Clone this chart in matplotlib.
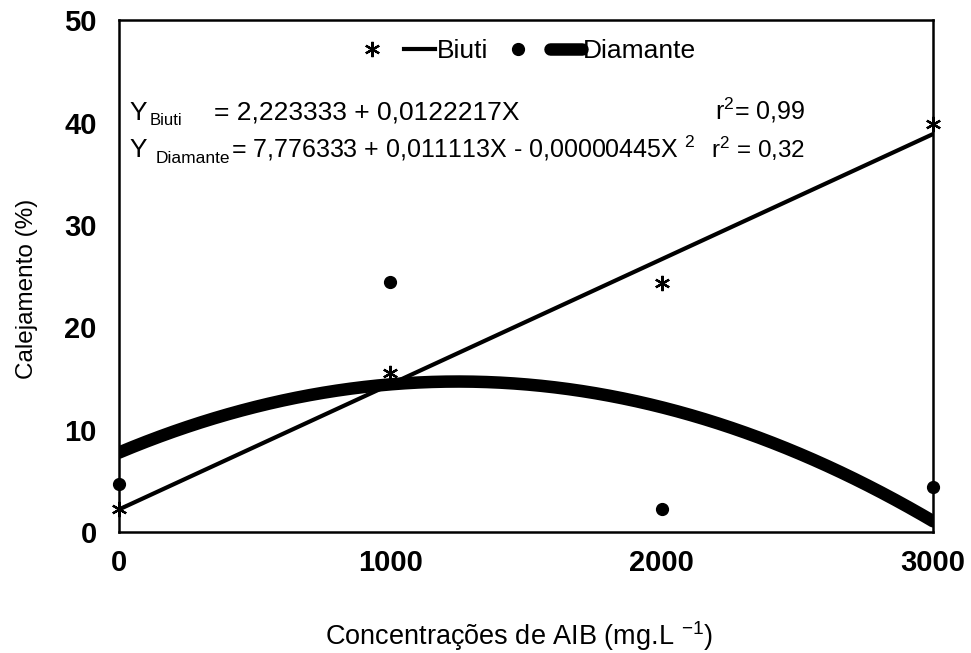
import numpy as np
import matplotlib
matplotlib.use("Agg")
import matplotlib.pyplot as plt
from matplotlib.lines import Line2D

plt.rcParams['font.family'] = ['Liberation Sans', 'DejaVu Sans']
plt.rcParams['mathtext.fontset'] = 'custom'
plt.rcParams['mathtext.rm'] = 'Liberation Sans'
plt.rcParams['mathtext.it'] = 'Liberation Sans:italic'
plt.rcParams['mathtext.bf'] = 'Liberation Sans:bold'

# dados observados
doses = [0, 1000, 2000, 3000]
biuti = [2.3, 15.5, 24.3, 39.9]
diamante = [4.7, 24.4, 2.25, 4.4]

# coeficientes das regressoes
coef_biuti = [2.223333, 0.0122217]
coef_diamante = [7.776333, 0.011113, -0.00000445]

xticks = [0, 1000, 2000, 3000]
yticks = [0, 10, 20, 30, 40, 50]

fig = plt.figure(figsize=(9.71, 6.53), dpi=100)
ax = fig.add_axes([0.1226, 0.185, 0.8384, 0.784])

xs = np.linspace(0, 3000, 300)
y_b = coef_biuti[0] + coef_biuti[1] * xs
y_d = coef_diamante[0] + coef_diamante[1] * xs + coef_diamante[2] * xs ** 2

star = (6, 2, 0)
ax.plot(xs, y_b, color='black', lw=3.0, solid_capstyle='round')
ax.plot(xs, y_d, color='black', lw=9, solid_capstyle='round')
ax.plot(doses, biuti, ls='none', marker=star, ms=11, mew=1.6, color='black', clip_on=False)
ax.plot(doses, diamante, ls='none', marker='o', ms=8.5, color='black', clip_on=False)

ax.set_xlim(0, 3000)
ax.set_ylim(0, 50)
ax.set_xticks(xticks)
ax.set_yticks(yticks)
ax.tick_params(length=0, labelsize=21)
ax.tick_params(axis='x', pad=12)
ax.tick_params(axis='y', pad=16)
for lab in ax.get_xticklabels() + ax.get_yticklabels():
    lab.set_fontweight('bold')
for sp in ax.spines.values():
    sp.set_linewidth(1.8)

ax.set_ylabel('Calejamento (%)', fontsize=17.5)
ax.yaxis.set_label_coords(-0.099, 0.475)
fig.text(0.534, 0.012, r'Concentrações de AIB (mg.L $^{\mathregular{-1}}$)',
         fontsize=19.5, ha='center', va='baseline')

# legenda
handles = [Line2D([], [], ls='none', marker=star, ms=11, mew=1.6, color='black'),
           Line2D([], [], color='black', lw=3.0),
           Line2D([], [], ls='none', marker='o', ms=8.5, color='black'),
           Line2D([], [], color='black', lw=9, solid_capstyle='round')]
ax.legend(handles, ['', 'Biuti', '', 'Diamante'], ncol=4, frameon=False,
          loc='center', bbox_to_anchor=(0.5, 0.94), fontsize=19,
          handlelength=1.2, handletextpad=0.05, columnspacing=0.55)

# equacoes (posicoes em unidades dos eixos)
ax.text(37, 40.3, 'Y', fontsize=19, va='baseline')
ax.text(114, 39.8, 'Biuti', fontsize=12, va='baseline')
ax.text(350, 40.3, '= 2,223333 + 0,0122217X', fontsize=19, va='baseline')
ax.text(2528, 40.3, 'r$^{\\mathregular{2}}$= 0,99', fontsize=18, va='baseline', ha='right')

ax.text(37, 36.6, 'Y', fontsize=19, va='baseline')
ax.text(136, 36.1, 'Diamante', fontsize=12.5, va='baseline')
ax.text(413, 36.6, r'= 7,776333 + 0,011113X - 0,00000445X $^{\mathregular{2}}$',
        fontsize=18, va='baseline')
ax.text(2528, 36.6, 'r$^{\\mathregular{2}}$ = 0,32', fontsize=17.5, va='baseline', ha='right')

fig.savefig('out.png', dpi=100)
